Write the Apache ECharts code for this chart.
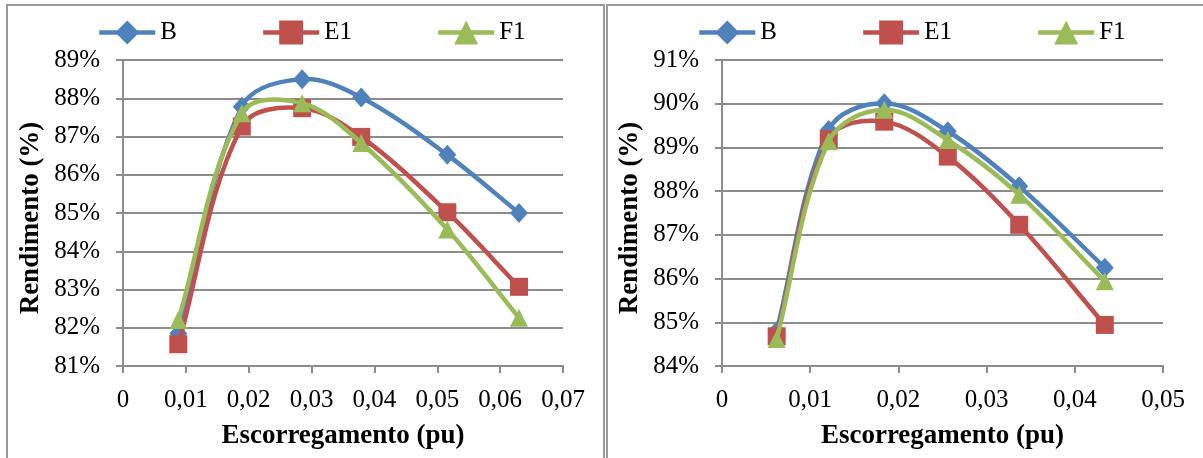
<!DOCTYPE html>
<html>
<head>
<meta charset="utf-8">
<script src="https://cdn.jsdelivr.net/npm/echarts@6/dist/echarts.min.js"></script>
<style>
  html, body { margin: 0; padding: 0; background: #fff; }
  #chart { width: 1203px; height: 458px; }
</style>
</head>
<body>
<div id="chart"></div>
<script>
// Slip (pu) at each measured operating point, left and right test sets
const slipLeft  = [0.0088, 0.0189, 0.0285, 0.0379, 0.0516, 0.0630];
const slipRight = [0.0062, 0.0121, 0.0184, 0.0256, 0.0337, 0.0434];

// Efficiency (%) per configuration, left panel
const effLeftB  = [81.85, 87.78, 88.50, 88.02, 86.52, 85.00];
const effLeftE1 = [81.57, 87.26, 87.74, 86.99, 85.02, 83.07];
const effLeftF1 = [82.20, 87.61, 87.87, 86.83, 84.57, 82.26];

// Efficiency (%) per configuration, right panel
const effRightB  = [84.80, 89.40, 90.01, 89.37, 88.11, 86.25];
const effRightE1 = [84.68, 89.19, 89.59, 88.79, 87.23, 84.94];
const effRightF1 = [84.62, 89.14, 89.86, 89.17, 87.92, 85.94];

const seriesNames = ['B', 'E1', 'F1'];
const seriesColors = ['#4F81BD', '#C0504D', '#9BBB59'];
const seriesSymbols = ['diamond', 'rect', 'triangle'];

const yAxisTitle = 'Rendimento (%)';
const xAxisTitle = 'Escorregamento (pu)';

const FONT = "'Liberation Serif', 'Times New Roman', serif";
const GRAY = '#8c8c8c';
const LINE_W = 4.5;

function pairs(xs, ys) {
  return xs.map((x, i) => [x, ys[i]]);
}

// Unit tangent at point k, taken along the chord between its neighbours
function tangent(pts, k) {
  const a = pts[Math.max(k - 1, 0)];
  const b = pts[Math.min(k + 1, pts.length - 1)];
  const dx = b[0] - a[0], dy = b[1] - a[1];
  const len = Math.hypot(dx, dy) || 1;
  return [dx / len, dy / len];
}

// Smoothed curve: each data item draws the cubic segment that ends on it.
// Control arms follow the neighbour chords and are one third of the segment length.
function curveSeries(idx, axisIndex, xs, ys) {
  const color = seriesColors[idx];
  return {
    name: seriesNames[idx] + ' (curva)',
    type: 'custom',
    xAxisIndex: axisIndex,
    yAxisIndex: axisIndex,
    data: pairs(xs, ys),
    encode: { x: 0, y: 1 },
    silent: true,
    z: 2 + idx * 2,
    renderItem: function (params, api) {
      const i = params.dataIndex;
      if (i === 0) return { type: 'group', children: [] };
      const pts = xs.map((x, k) => api.coord([x, ys[k]]));
      const p1 = pts[i - 1];
      const p2 = pts[i];
      const arm = Math.hypot(p2[0] - p1[0], p2[1] - p1[1]) / 3;
      const t1 = tangent(pts, i - 1);
      const t2 = tangent(pts, i);
      return {
        type: 'bezierCurve',
        shape: {
          x1: p1[0], y1: p1[1],
          x2: p2[0], y2: p2[1],
          cpx1: p1[0] + t1[0] * arm,
          cpy1: p1[1] + t1[1] * arm,
          cpx2: p2[0] - t2[0] * arm,
          cpy2: p2[1] - t2[1] * arm
        },
        style: { stroke: color, lineWidth: LINE_W, fill: null, lineCap: 'round', lineJoin: 'round' }
      };
    }
  };
}

// Markers at the measured points (the line itself is drawn by the curve series)
function markerSeries(idx, axisIndex, xs, ys) {
  const color = seriesColors[idx];
  return {
    name: seriesNames[idx],
    type: 'line',
    xAxisIndex: axisIndex,
    yAxisIndex: axisIndex,
    data: pairs(xs, ys),
    symbol: seriesSymbols[idx],
    symbolSize: seriesSymbols[idx] === 'diamond' ? [18, 20] : 18,
    color: color,
    lineStyle: { width: LINE_W, color: color, opacity: 0 },
    itemStyle: { color: color },
    emphasis: { disabled: true },
    z: 3 + idx * 2
  };
}

function xAxisFor(gridIndex, max) {
  return {
    type: 'value',
    gridIndex: gridIndex,
    min: 0,
    max: max,
    interval: 0.01,
    name: xAxisTitle,
    nameLocation: 'middle',
    nameGap: 57,
    nameTextStyle: { fontFamily: FONT, fontSize: 27, fontWeight: 'bold', color: '#000' },
    axisLine: { show: true, lineStyle: { color: GRAY, width: 2 } },
    axisTick: { show: true, length: 7, lineStyle: { color: GRAY, width: 2 } },
    axisLabel: {
      margin: 22,
      fontFamily: FONT, fontSize: 25, color: '#000',
      formatter: v => (Math.abs(v) < 1e-9 ? '0' : v.toFixed(2).replace('.', ','))
    },
    splitLine: { show: false }
  };
}

function yAxisFor(gridIndex, min, max) {
  return {
    type: 'value',
    gridIndex: gridIndex,
    min: min,
    max: max,
    interval: 1,
    name: yAxisTitle,
    nameLocation: 'middle',
    nameGap: 78,
    nameTextStyle: {
      fontFamily: FONT, fontSize: 27, fontWeight: 'bold', color: '#000',
      padding: [0, 10, 0, 0]
    },
    axisLine: { show: true, lineStyle: { color: GRAY, width: 2 } },
    axisTick: { show: true, length: 7, lineStyle: { color: GRAY, width: 2 } },
    axisLabel: {
      margin: 23,
      fontFamily: FONT, fontSize: 25, color: '#000',
      formatter: v => v + '%'
    },
    splitLine: { show: true, lineStyle: { color: GRAY, width: 2 } }
  };
}

function legendFor(left) {
  return {
    left: left,
    top: 20,
    padding: 0,
    itemWidth: 56,
    itemHeight: 30,
    itemGap: 84,
    data: seriesNames,
    selectedMode: false,
    lineStyle: { width: LINE_W, opacity: 1 },
    textStyle: { fontFamily: FONT, fontSize: 25, color: '#000' }
  };
}

const chart = echarts.init(document.getElementById('chart'), null, { renderer: 'canvas' });

chart.setOption({
  animation: false,
  backgroundColor: '#fff',
  graphic: [
    { type: 'rect', shape: { x: 7, y: 5, width: 597, height: 480 },
      style: { fill: 'none', stroke: '#9a9a9a', lineWidth: 2 }, silent: true },
    { type: 'rect', shape: { x: 607, y: 5, width: 620, height: 480 },
      style: { fill: 'none', stroke: '#9a9a9a', lineWidth: 2 }, silent: true }
  ],
  legend: [legendFor(97), legendFor(697)],
  grid: [
    { left: 123, top: 60, width: 440, height: 306 },
    { left: 722, top: 60, width: 441, height: 306 }
  ],
  xAxis: [xAxisFor(0, 0.07), xAxisFor(1, 0.05)],
  yAxis: [yAxisFor(0, 81, 89), yAxisFor(1, 84, 91)],
  series: [
    curveSeries(0, 0, slipLeft, effLeftB),
    markerSeries(0, 0, slipLeft, effLeftB),
    curveSeries(1, 0, slipLeft, effLeftE1),
    markerSeries(1, 0, slipLeft, effLeftE1),
    curveSeries(2, 0, slipLeft, effLeftF1),
    markerSeries(2, 0, slipLeft, effLeftF1),
    curveSeries(0, 1, slipRight, effRightB),
    markerSeries(0, 1, slipRight, effRightB),
    curveSeries(1, 1, slipRight, effRightE1),
    markerSeries(1, 1, slipRight, effRightE1),
    curveSeries(2, 1, slipRight, effRightF1),
    markerSeries(2, 1, slipRight, effRightF1)
  ]
});
</script>
</body>
</html>
